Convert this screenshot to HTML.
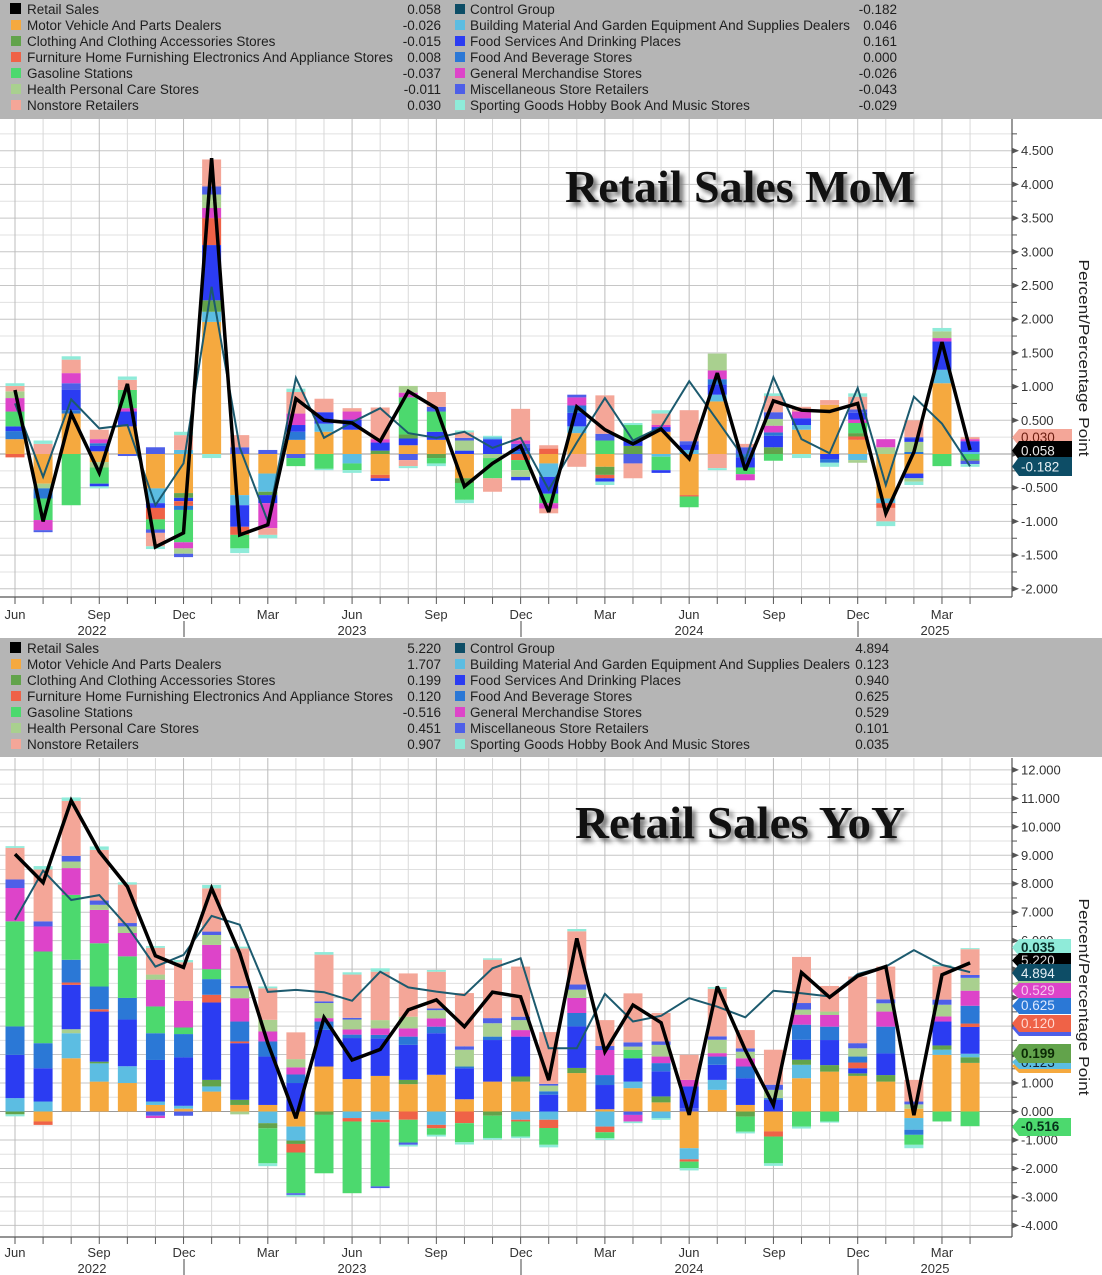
<!DOCTYPE html>
<html>
<head>
<meta charset="utf-8">
<style>
html,body{margin:0;padding:0;background:#fff;overflow:hidden;}
svg{display:block;}
.lg{font-family:"Liberation Sans",Arial,sans-serif;font-size:13.5px;fill:#1e1e1e;}
.ax{font-family:"Liberation Sans",Arial,sans-serif;font-size:13px;fill:#333;}
.fl{font-family:"Liberation Sans",Arial,sans-serif;font-size:13.5px;}
.tt{font-family:"Liberation Serif","Times New Roman",serif;font-size:46px;font-weight:bold;}
</style>
</head>
<body>
<svg id="s" width="1102" height="1275" viewBox="0 0 1102 1275" xmlns="http://www.w3.org/2000/svg">
<defs>
<filter id="sh" x="-10%" y="-40%" width="120%" height="180%"><feGaussianBlur stdDeviation="2.5"/></filter>
</defs>
<rect x="0" y="0" width="1102" height="1275" fill="#fff"/>
<g id="p1"></g>
<g id="p2"></g>

<!-- Titles -->
<text class="tt" x="569" y="206" fill="#777" filter="url(#sh)" textLength="350" lengthAdjust="spacingAndGlyphs">Retail Sales MoM</text>
<text class="tt" x="565" y="202" fill="#111" textLength="350" lengthAdjust="spacingAndGlyphs">Retail Sales MoM</text>
<text class="tt" x="579" y="842" fill="#777" filter="url(#sh)" textLength="330" lengthAdjust="spacingAndGlyphs">Retail Sales YoY</text>
<text class="tt" x="575" y="838" fill="#111" textLength="330" lengthAdjust="spacingAndGlyphs">Retail Sales YoY</text>

<!-- Top legend -->
<rect x="0" y="0" width="1102" height="119" fill="#b5b5b5"/>
<g class="lg">
<rect x="10" y="3" width="11" height="11" fill="#000"/>
<text x="27" y="14">Retail Sales</text><text x="441" y="14" text-anchor="end">0.058</text>
<rect x="11" y="20" width="10" height="10" fill="#f5a93f"/>
<text x="27" y="30">Motor Vehicle And Parts Dealers</text><text x="441" y="30" text-anchor="end">-0.026</text>
<rect x="11" y="36" width="10" height="10" fill="#62a34b"/>
<text x="27" y="46">Clothing And Clothing Accessories Stores</text><text x="441" y="46" text-anchor="end">-0.015</text>
<rect x="11" y="52" width="10" height="10" fill="#ef6247"/>
<text x="27" y="62" textLength="366" lengthAdjust="spacingAndGlyphs">Furniture Home Furnishing Electronics And Appliance Stores</text><text x="441" y="62" text-anchor="end">0.008</text>
<rect x="11" y="68" width="10" height="10" fill="#4cd96e"/>
<text x="27" y="78">Gasoline Stations</text><text x="441" y="78" text-anchor="end">-0.037</text>
<rect x="11" y="84" width="10" height="10" fill="#a9d08f"/>
<text x="27" y="94">Health Personal Care Stores</text><text x="441" y="94" text-anchor="end">-0.011</text>
<rect x="11" y="100" width="10" height="10" fill="#f4a698"/>
<text x="27" y="110">Nonstore Retailers</text><text x="441" y="110" text-anchor="end">0.030</text>

<rect x="455" y="4" width="10" height="10" fill="#0d4d66"/>
<text x="470" y="14">Control Group</text><text x="897" y="14" text-anchor="end">-0.182</text>
<rect x="455" y="20" width="10" height="10" fill="#5cbde2"/>
<text x="470" y="30" textLength="380" lengthAdjust="spacingAndGlyphs">Building Material And Garden Equipment And Supplies Dealers</text><text x="897" y="30" text-anchor="end">0.046</text>
<rect x="455" y="36" width="10" height="10" fill="#2b3cf2"/>
<text x="470" y="46">Food Services And Drinking Places</text><text x="897" y="46" text-anchor="end">0.161</text>
<rect x="455" y="52" width="10" height="10" fill="#2b78d6"/>
<text x="470" y="62">Food And Beverage Stores</text><text x="897" y="62" text-anchor="end">0.000</text>
<rect x="455" y="68" width="10" height="10" fill="#dd44c9"/>
<text x="470" y="78">General Merchandise Stores</text><text x="897" y="78" text-anchor="end">-0.026</text>
<rect x="455" y="84" width="10" height="10" fill="#4e5fe8"/>
<text x="470" y="94">Miscellaneous Store Retailers</text><text x="897" y="94" text-anchor="end">-0.043</text>
<rect x="455" y="100" width="10" height="10" fill="#8febd9"/>
<text x="470" y="110">Sporting Goods Hobby Book And Music Stores</text><text x="897" y="110" text-anchor="end">-0.029</text>
</g>

<!-- Bottom legend -->
<rect x="0" y="638" width="1102" height="119" fill="#b5b5b5"/>
<g class="lg">
<rect x="10" y="642" width="11" height="11" fill="#000"/>
<text x="27" y="653">Retail Sales</text><text x="441" y="653" text-anchor="end">5.220</text>
<rect x="11" y="659" width="10" height="10" fill="#f5a93f"/>
<text x="27" y="669">Motor Vehicle And Parts Dealers</text><text x="441" y="669" text-anchor="end">1.707</text>
<rect x="11" y="675" width="10" height="10" fill="#62a34b"/>
<text x="27" y="685">Clothing And Clothing Accessories Stores</text><text x="441" y="685" text-anchor="end">0.199</text>
<rect x="11" y="691" width="10" height="10" fill="#ef6247"/>
<text x="27" y="701" textLength="366" lengthAdjust="spacingAndGlyphs">Furniture Home Furnishing Electronics And Appliance Stores</text><text x="441" y="701" text-anchor="end">0.120</text>
<rect x="11" y="707" width="10" height="10" fill="#4cd96e"/>
<text x="27" y="717">Gasoline Stations</text><text x="441" y="717" text-anchor="end">-0.516</text>
<rect x="11" y="723" width="10" height="10" fill="#a9d08f"/>
<text x="27" y="733">Health Personal Care Stores</text><text x="441" y="733" text-anchor="end">0.451</text>
<rect x="11" y="739" width="10" height="10" fill="#f4a698"/>
<text x="27" y="749">Nonstore Retailers</text><text x="441" y="749" text-anchor="end">0.907</text>

<rect x="455" y="643" width="10" height="10" fill="#0d4d66"/>
<text x="470" y="653">Control Group</text><text x="889" y="653" text-anchor="end">4.894</text>
<rect x="455" y="659" width="10" height="10" fill="#5cbde2"/>
<text x="470" y="669" textLength="380" lengthAdjust="spacingAndGlyphs">Building Material And Garden Equipment And Supplies Dealers</text><text x="889" y="669" text-anchor="end">0.123</text>
<rect x="455" y="675" width="10" height="10" fill="#2b3cf2"/>
<text x="470" y="685">Food Services And Drinking Places</text><text x="889" y="685" text-anchor="end">0.940</text>
<rect x="455" y="691" width="10" height="10" fill="#2b78d6"/>
<text x="470" y="701">Food And Beverage Stores</text><text x="889" y="701" text-anchor="end">0.625</text>
<rect x="455" y="707" width="10" height="10" fill="#dd44c9"/>
<text x="470" y="717">General Merchandise Stores</text><text x="889" y="717" text-anchor="end">0.529</text>
<rect x="455" y="723" width="10" height="10" fill="#4e5fe8"/>
<text x="470" y="733">Miscellaneous Store Retailers</text><text x="889" y="733" text-anchor="end">0.101</text>
<rect x="455" y="739" width="10" height="10" fill="#8febd9"/>
<text x="470" y="749">Sporting Goods Hobby Book And Music Stores</text><text x="889" y="749" text-anchor="end">0.035</text>
</g>

<!-- Top right axis labels -->
<g class="ax">
<text x="1021" y="155.2">4.500</text>
<text x="1021" y="188.9">4.000</text>
<text x="1021" y="222.6">3.500</text>
<text x="1021" y="256.3">3.000</text>
<text x="1021" y="290">2.500</text>
<text x="1021" y="323.7">2.000</text>
<text x="1021" y="357.4">1.500</text>
<text x="1021" y="391.1">1.000</text>
<text x="1021" y="424.8">0.500</text>
<text x="1021" y="458.5">0.000</text>
<text x="1021" y="492.2">-0.500</text>
<text x="1021" y="525.9">-1.000</text>
<text x="1021" y="559.6">-1.500</text>
<text x="1021" y="593.3">-2.000</text>
</g>
<!-- Bottom right axis labels -->
<g class="ax">
<text x="1021" y="774.4">12.000</text>
<text x="1021" y="802.8">11.000</text>
<text x="1021" y="831.3">10.000</text>
<text x="1021" y="859.8">9.000</text>
<text x="1021" y="888.2">8.000</text>
<text x="1021" y="916.7">7.000</text>
<text x="1021" y="945.2">6.000</text>
<text x="1021" y="973.6">5.000</text>
<text x="1021" y="1002.1">4.000</text>
<text x="1021" y="1030.6">3.000</text>
<text x="1021" y="1059.1">2.000</text>
<text x="1021" y="1087.5">1.000</text>
<text x="1021" y="1116">0.000</text>
<text x="1021" y="1144.5">-1.000</text>
<text x="1021" y="1172.9">-2.000</text>
<text x="1021" y="1201.4">-3.000</text>
<text x="1021" y="1229.9">-4.000</text>
</g>

<!-- Axis titles -->
<text class="ax" style="font-size:15px;fill:#222" transform="translate(1079,358) rotate(90)" text-anchor="middle" textLength="197" lengthAdjust="spacingAndGlyphs">Percent/Percentage Point</text>
<text class="ax" style="font-size:15px;fill:#222" transform="translate(1079,997) rotate(90)" text-anchor="middle" textLength="197" lengthAdjust="spacingAndGlyphs">Percent/Percentage Point</text>

<!-- Top flags -->
<g class="fl">
<polygon points="1012,437.5 1019,429 1072,429 1072,446 1019,446" fill="#f4a698"/>
<text x="1021" y="442" fill="#6b1d10">0.030</text>
<polygon points="1012,450.5 1019,441 1072,441 1072,460 1019,460" fill="#000"/>
<text x="1021" y="455.5" fill="#e8e8e8">0.058</text>
<polygon points="1012,466.5 1019,457 1072,457 1072,476 1019,476" fill="#0d4d66"/>
<text x="1021" y="471.5" fill="#e8f0f4">-0.182</text>
</g>

<!-- Bottom flags -->
<g class="fl">
<polygon points="1012,947.5 1019,939 1071,939 1071,956 1019,956" fill="#8febd9"/>
<text x="1021" y="952" fill="#0b2f2a" font-weight="bold">0.035</text>
<polygon points="1012,960.5 1019,953 1071,953 1071,968 1019,968" fill="#000"/>
<text x="1021" y="965" fill="#ddd">5.220</text>
<polygon points="1012,973 1019,964 1071,964 1071,982 1019,982" fill="#0d4d66"/>
<text x="1021" y="978" fill="#e6f0f5">4.894</text>
<polygon points="1012,984 1019,981 1071,981 1071,986 1019,986" fill="#a9d08f"/>
<polygon points="1012,991 1019,983 1071,983 1071,999 1019,999" fill="#dd44c9"/>
<text x="1021" y="995" fill="#f8c8f0">0.529</text>
<polygon points="1012,1006 1019,998 1071,998 1071,1014 1019,1014" fill="#2b78d6"/>
<text x="1021" y="1010" fill="#dce8ff">0.625</text>
<polygon points="1012,1028 1019,1021 1071,1021 1071,1036 1019,1036" fill="#4e5fe8"/>
<polygon points="1012,1023.5 1019,1015 1071,1015 1071,1032 1019,1032" fill="#ef6247"/>
<text x="1021" y="1028" fill="#ffd8d0">0.120</text>
<polygon points="1012,1066 1019,1060 1071,1060 1071,1073 1019,1073" fill="#f5a93f"/>
<polygon points="1012,1062 1019,1056 1071,1056 1071,1069 1019,1069" fill="#5cbde2"/>
<text x="1021" y="1067" fill="#123">0.123</text>
<polygon points="1012,1053.5 1019,1044 1071,1044 1071,1063 1019,1063" fill="#62a34b"/>
<text x="1021" y="1058" fill="#0c2a05" font-weight="bold">0.199</text>
<polygon points="1012,1127 1019,1118 1071,1118 1071,1136 1019,1136" fill="#4cd96e"/>
<text x="1021" y="1131" fill="#06321a" font-weight="bold">-0.516</text>
</g>

<!-- Top x labels -->
<g class="ax" text-anchor="middle">
<text x="15" y="619">Jun</text>
<text x="99" y="619">Sep</text>
<text x="184" y="619">Dec</text>
<text x="268" y="619">Mar</text>
<text x="352" y="619">Jun</text>
<text x="436" y="619">Sep</text>
<text x="521" y="619">Dec</text>
<text x="605" y="619">Mar</text>
<text x="689" y="619">Jun</text>
<text x="774" y="619">Sep</text>
<text x="858" y="619">Dec</text>
<text x="942" y="619">Mar</text>
<text x="92" y="635">2022</text>
<text x="352" y="635">2023</text>
<text x="689" y="635">2024</text>
<text x="935" y="635">2025</text>
</g>
<g stroke="#444" stroke-width="1">
<line x1="184" y1="621" x2="184" y2="637"/>
<line x1="521" y1="621" x2="521" y2="637"/>
<line x1="858" y1="621" x2="858" y2="637"/>
<line x1="184" y1="1259" x2="184" y2="1275"/>
<line x1="521" y1="1259" x2="521" y2="1275"/>
<line x1="858" y1="1259" x2="858" y2="1275"/>
</g>
<!-- Bottom x labels -->
<g class="ax" text-anchor="middle">
<text x="15" y="1257">Jun</text>
<text x="99" y="1257">Sep</text>
<text x="184" y="1257">Dec</text>
<text x="268" y="1257">Mar</text>
<text x="352" y="1257">Jun</text>
<text x="436" y="1257">Sep</text>
<text x="521" y="1257">Dec</text>
<text x="605" y="1257">Mar</text>
<text x="689" y="1257">Jun</text>
<text x="774" y="1257">Sep</text>
<text x="858" y="1257">Dec</text>
<text x="942" y="1257">Mar</text>
<text x="92" y="1273">2022</text>
<text x="352" y="1273">2023</text>
<text x="689" y="1273">2024</text>
<text x="935" y="1273">2025</text>
</g>
</svg>
<script>
(function(){
var NS='http://www.w3.org/2000/svg';
function el(tag,a,p){var e=document.createElementNS(NS,tag);for(var k in a)e.setAttribute(k,a[k]);p.appendChild(e);return e;}
var COL={M:'#f5a93f',C:'#62a34b',F:'#ef6247',G:'#4cd96e',H:'#a9d08f',N:'#f4a698',B:'#5cbde2',S:'#2b3cf2',FB:'#2b78d6',GM:'#dd44c9',MI:'#4e5fe8',SP:'#8febd9'};
function cx(i){return 15+28.09*i;}
function panel(g,y0,ppu,top,bottom,hstep,kmin,kmax,bars,black,teal,lab,labStep){
  var k,i,x,y;
  for(k=kmin;k<=kmax;k++){y=y0-k*hstep*ppu;el('line',{x1:0,x2:1012,y1:y,y2:y,stroke:(k%2===0)?'#c6c6c6':'#e0e0e0','stroke-width':1},g);}
  for(i=0;i<35;i++){x=cx(i);el('line',{x1:x,x2:x,y1:top,y2:bottom,stroke:(i%3===0)?'#bcbcbc':'#d8d8d8','stroke-width':1},g);
    el('line',{x1:x,x2:x,y1:bottom,y2:bottom+7,stroke:'#555','stroke-width':1},g);}
  el('line',{x1:0,x2:1012,y1:y0,y2:y0,stroke:'#9a9a9a','stroke-width':1},g);
  bars.forEach(function(s,i){var p=0,n=0;s.split(' ').forEach(function(t){if(!t)return;var a=t.split(':');var v=parseFloat(a[1]);
    if(v>=0){el('rect',{x:cx(i)-9.5,y:y0-(p+v)*ppu,width:19,height:v*ppu,fill:COL[a[0]]},g);p+=v;}
    else{el('rect',{x:cx(i)-9.5,y:y0+n*ppu,width:19,height:-v*ppu,fill:COL[a[0]]},g);n-=v;}});});
  function pts(arr){return arr.map(function(v,i){return cx(i).toFixed(1)+','+(y0-v*ppu).toFixed(1);}).join(' ');}
  el('polyline',{points:pts(teal),fill:'none',stroke:'#1c5a6e','stroke-width':2},g);
  el('polyline',{points:pts(black),fill:'none',stroke:'#000','stroke-width':3.5,'stroke-linejoin':'miter','stroke-miterlimit':3},g);
  el('line',{x1:1012,x2:1012,y1:top,y2:bottom,stroke:'#555','stroke-width':1.2},g);
  el('line',{x1:0,x2:1012,y1:bottom,y2:bottom,stroke:'#555','stroke-width':1.2},g);
  // right ticks
  for(k=kmin;k<=kmax;k++){y=y0-k*hstep*ppu;
    if(k%2===0){el('polygon',{points:'1012,'+(y-3)+' 1019,'+y+' 1012,'+(y+3),fill:'#555'},g);}
    else{el('line',{x1:1012,x2:1017,y1:y,y2:y,stroke:'#555','stroke-width':1},g);}}
}
var T=[
"M:0.22 FB:0.12 S:0.07 G:0.22 GM:0.2 H:0.1 N:0.08 SP:0.04 F:-0.05",
"N:0.15 SP:0.05 M:-0.44 H:-0.07 FB:-0.15 G:-0.32 GM:-0.15 MI:-0.03",
"M:0.6 FB:0.05 S:0.3 MI:0.1 GM:0.15 N:0.2 SP:0.05 G:-0.76",
"M:0.04 S:0.08 FB:0.04 GM:0.06 N:0.14 M:-0.12 H:-0.08 G:-0.24 S:-0.04 SP:-0.03",
"M:0.41 S:0.22 GM:0.05 G:0.27 N:0.15 SP:0.05 MI:-0.03",
"MI:0.1 M:-0.51 B:-0.22 S:-0.07 F:-0.17 G:-0.15 MI:-0.05 N:-0.2 SP:-0.04",
"B:0.06 N:0.22 SP:0.05 M:-0.58 C:-0.07 S:-0.05 F:-0.07 FB:-0.06 G:-0.48 GM:-0.09 H:-0.08 MI:-0.05",
"M:1.96 B:0.15 C:0.17 S:0.82 F:0.4 GM:0.15 H:0.2 MI:0.12 N:0.4 SP:-0.06",
"MI:0.1 N:0.18 M:-0.61 B:-0.15 S:-0.32 F:-0.12 G:-0.2 SP:-0.07",
"MI:0.06 M:-0.29 B:-0.27 C:-0.05 S:-0.12 GM:-0.37 N:-0.1 SP:-0.05",
"M:0.21 FB:0.12 S:0.1 GM:0.17 N:0.32 SP:0.05 MI:-0.06 G:-0.12",
"M:0.33 B:0.12 S:0.17 N:0.2 G:-0.22 SP:-0.02",
"M:0.36 S:0.15 GM:0.12 N:0.05 B:-0.14 G:-0.1 SP:-0.04",
"C:0.05 S:0.12 GM:0.05 N:0.47 M:-0.31 F:-0.05 S:-0.04",
"M:0.13 S:0.1 C:0.06 G:0.55 GM:0.07 H:0.1 MI:-0.09 N:-0.09 SP:-0.03",
"M:0.21 S:0.12 G:0.3 MI:0.07 N:0.22 C:-0.06 G:-0.08 SP:-0.04",
"S:0.05 H:0.15 MI:0.04 N:0.08 SP:0.03 M:-0.36 C:-0.07 G:-0.25 SP:-0.05",
"S:0.22 B:0.03 SP:0.02 H:-0.06 G:-0.3 N:-0.2",
"FB:0.04 S:0.06 MI:0.05 GM:0.05 N:0.47 F:-0.09 G:-0.15 H:-0.1 S:-0.05",
"F:0.08 N:0.05 M:-0.14 B:-0.2 S:-0.25 G:-0.14 GM:-0.08 N:-0.07",
"M:0.31 B:0.1 S:0.2 FB:0.11 GM:0.12 MI:0.04 N:-0.19",
"G:0.2 MI:0.1 N:0.57 M:-0.19 C:-0.12 F:-0.05 S:-0.05 SP:-0.05",
"C:0.12 S:0.08 G:0.23 SP:0.03 MI:-0.14 N:-0.22",
"M:0.33 S:0.07 GM:0.03 N:0.17 SP:0.05 B:-0.04 G:-0.2 S:-0.04",
"B:0.06 S:0.08 MI:0.05 N:0.46 M:-0.61 F:-0.02 G:-0.16",
"M:0.78 B:0.1 S:0.15 FB:0.08 GM:0.13 H:0.25 N:-0.21 SP:-0.03",
"MI:0.1 N:0.05 FB:-0.05 S:-0.15 G:-0.1 GM:-0.09",
"C:0.1 S:0.17 FB:0.05 GM:0.1 H:0.1 MI:0.1 N:0.24 SP:0.04 G:-0.1",
"M:0.36 B:0.07 S:0.1 GM:0.1 N:0.07 SP:-0.06",
"M:0.73 N:0.07 S:-0.08 FB:-0.05 SP:-0.06",
"M:0.21 F:0.05 C:0.05 G:0.15 GM:0.05 S:0.1 MI:0.05 N:0.19 SP:0.05 B:-0.09 H:-0.04",
"H:0.1 GM:0.12 M:-0.66 B:-0.07 F:-0.07 N:-0.2 SP:-0.07",
"FB:0.03 H:0.15 S:0.05 MI:0.02 N:0.25 M:-0.29 S:-0.07 H:-0.05 SP:-0.05",
"M:1.05 B:0.2 S:0.42 GM:0.05 H:0.1 SP:0.05 G:-0.18",
"B:0.03 S:0.16 GM:0.03 N:0.03 G:-0.08 C:-0.02 MI:-0.05 SP:-0.04"
];
var TB=[0.95,-1.0,0.6,-0.28,1.04,-1.38,-1.17,4.39,-1.2,-1.05,0.82,0.5,0.46,0.19,0.93,0.68,-0.48,-0.14,0.12,-0.86,0.7,0.36,0.15,0.37,-0.07,1.2,-0.24,0.79,0.65,0.63,0.75,-0.88,0.03,1.66,0.058];
var TT=[0.75,-0.34,0.81,0.38,0.43,-0.76,-0.14,2.48,0.1,-1.0,1.13,0.24,0.47,0.68,0.31,0.24,0.33,0.09,0.24,-0.53,0.17,0.83,0.2,0.4,1.08,0.5,-0.09,1.14,0.22,0.01,0.98,-0.46,0.85,0.45,-0.182];
var Bb=[
"B:0.47 S:1.52 FB:1.0 G:3.69 GM:1.17 MI:0.3 N:1.11 SP:0.06 C:-0.1 SP:-0.07",
"B:0.35 S:1.17 FB:0.88 G:3.22 GM:0.88 MI:0.18 N:1.82 SP:0.12 M:-0.35 F:-0.12",
"M:1.87 B:0.88 H:0.14 S:1.56 F:0.08 FB:0.8 G:2.28 GM:0.94 H:0.23 MI:0.2 N:1.93 SP:0.12",
"M:1.05 B:0.64 C:0.06 S:1.76 F:0.08 FB:0.8 G:1.52 GM:1.17 H:0.18 MI:0.15 N:1.78 SP:0.12",
"M:1.0 B:0.59 S:1.64 FB:0.76 G:1.46 GM:0.82 H:0.23 MI:0.12 N:1.35 SP:0.08",
"M:0.23 B:0.12 S:1.46 FB:0.94 G:0.94 GM:0.94 H:0.18 N:0.94 SP:0.06 MI:-0.15 GM:-0.08",
"M:0.1 B:0.1 S:1.7 FB:0.82 G:0.23 GM:0.94 N:1.35 SP:0.08 MI:-0.15",
"M:0.7 B:0.18 C:0.23 S:2.72 F:0.27 FB:0.55 G:0.35 GM:0.85 H:0.35 MI:0.12 N:1.52 SP:0.12",
"M:0.23 C:0.18 S:1.99 F:0.06 FB:0.7 GM:0.82 H:0.35 MI:0.08 N:1.32 SP:0.06 H:-0.1",
"M:0.23 S:1.7 FB:0.53 GM:0.35 H:0.41 N:1.11 SP:0.06 B:-0.41 C:-0.18 G:-1.23 SP:-0.1",
"S:1.0 FB:0.3 GM:0.25 H:0.29 N:0.94 M:-0.53 B:-0.49 C:-0.12 F:-0.3 G:-1.43 MI:-0.06 SP:-0.06",
"M:1.58 S:1.29 FB:0.29 GM:0.12 H:0.53 MI:0.06 N:1.64 SP:0.09 C:-0.12 G:-2.05",
"M:1.14 S:1.44 FB:0.12 GM:0.18 H:0.35 MI:0.06 N:1.52 SP:0.08 B:-0.23 F:-0.12 G:-2.52",
"M:1.25 S:1.32 FB:0.12 GM:0.23 H:0.29 N:1.7 SP:0.12 B:-0.29 F:-0.09 G:-2.25 MI:-0.06",
"M:0.96 C:0.15 S:1.23 FB:0.29 GM:0.29 H:0.41 N:1.52 F:-0.29 G:-0.8 MI:-0.08 SP:-0.06",
"M:1.29 S:1.46 FB:0.23 GM:0.29 H:0.29 MI:0.06 N:1.29 SP:0.06 B:-0.47 F:-0.12 G:-0.23 SP:-0.06",
"M:0.43 S:1.09 FB:0.06 H:0.59 MI:0.12 N:1.87 F:-0.41 G:-0.67 SP:-0.08",
"M:1.05 S:1.46 FB:0.12 H:0.47 MI:0.18 N:2.05 SP:0.05 C:-0.15 G:-0.78 SP:-0.06",
"M:1.05 C:0.18 S:1.4 GM:0.23 H:0.35 MI:0.12 N:1.76 B:-0.29 F:-0.06 G:-0.53 SP:-0.06",
"S:0.59 FB:0.12 H:0.2 MI:0.06 N:1.82 B:-0.29 F:-0.29 G:-0.59 SP:-0.09",
"M:1.35 C:0.18 S:1.46 FB:0.47 GM:0.53 H:0.29 MI:0.18 N:1.87 SP:0.08",
"M:0.08 S:0.85 FB:0.35 GM:0.88 MI:0.14 N:0.91 B:-0.53 F:-0.2 G:-0.21 SP:-0.06",
"M:0.82 B:0.23 S:0.82 G:0.29 H:0.12 MI:0.15 N:1.72 MI:-0.12 GM:-0.23 SP:-0.06",
"M:0.32 C:0.21 S:0.88 FB:0.29 GM:0.23 H:0.41 MI:0.12 N:1.0 B:-0.23 SP:-0.06",
"MI:0.12 S:0.76 GM:0.23 N:0.88 M:-1.29 B:-0.39 F:-0.08 G:-0.23 SP:-0.08",
"M:0.76 B:0.35 S:0.53 FB:0.29 GM:0.12 H:0.47 MI:0.12 N:1.67 SP:0.06",
"M:0.23 S:0.94 FB:0.41 GM:0.29 H:0.23 MI:0.12 N:0.64 C:-0.18 G:-0.53 SP:-0.06",
"S:0.41 FB:0.06 H:0.29 MI:0.18 N:1.23 M:-0.7 F:-0.18 G:-0.94 SP:-0.09",
"M:1.17 B:0.47 C:0.18 S:0.7 FB:0.53 GM:0.35 H:0.18 MI:0.23 N:1.62 G:-0.53 SP:-0.07",
"M:1.4 C:0.23 S:0.88 FB:0.47 GM:0.41 H:0.12 N:0.9 G:-0.35 SP:-0.04",
"M:1.25 C:0.09 S:0.18 F:0.2 FB:0.21 H:0.29 MI:0.18 N:2.34",
"M:1.05 C:0.23 S:0.76 FB:0.94 GM:0.53 H:0.29 MI:0.14 N:1.15",
"M:0.1 H:0.15 MI:0.1 N:0.76 M:-0.23 B:-0.41 FB:-0.18 G:-0.35 SP:-0.12",
"M:1.99 B:0.18 C:0.15 S:0.84 GM:0.18 H:0.41 MI:0.18 N:1.17 SP:0.05 G:-0.35",
"M:1.707 C:0.199 B:0.123 S:0.94 F:0.12 FB:0.625 GM:0.529 H:0.451 MI:0.101 N:0.907 SP:0.035 G:-0.516"
];
var BB=[9.04,8.04,10.92,9.13,7.9,5.47,5.06,7.84,5.56,2.4,-0.24,3.3,1.81,2.18,3.57,3.92,2.98,4.19,4.03,1.1,6.08,2.1,3.74,3.12,-0.12,4.39,2.16,0.23,4.88,4.01,4.76,5.09,-0.13,4.8,5.22];
var BT=[6.73,8.46,7.43,7.6,6.5,5.09,5.5,6.87,6.56,4.2,4.27,4.19,3.89,4.91,4.36,4.21,4.09,5.03,5.38,2.22,2.22,4.13,3.16,3.36,3.98,3.68,3.31,4.24,4.15,4.04,4.83,5.09,5.67,5.15,4.894];
panel(document.getElementById('p1'),454,67.4,119,597,0.25,-8,19,T,TB,TT);
panel(document.getElementById('p2'),1111.5,28.47,758,1237,0.5,-8,24,Bb,BB,BT);
})();
</script>
</body>
</html>
